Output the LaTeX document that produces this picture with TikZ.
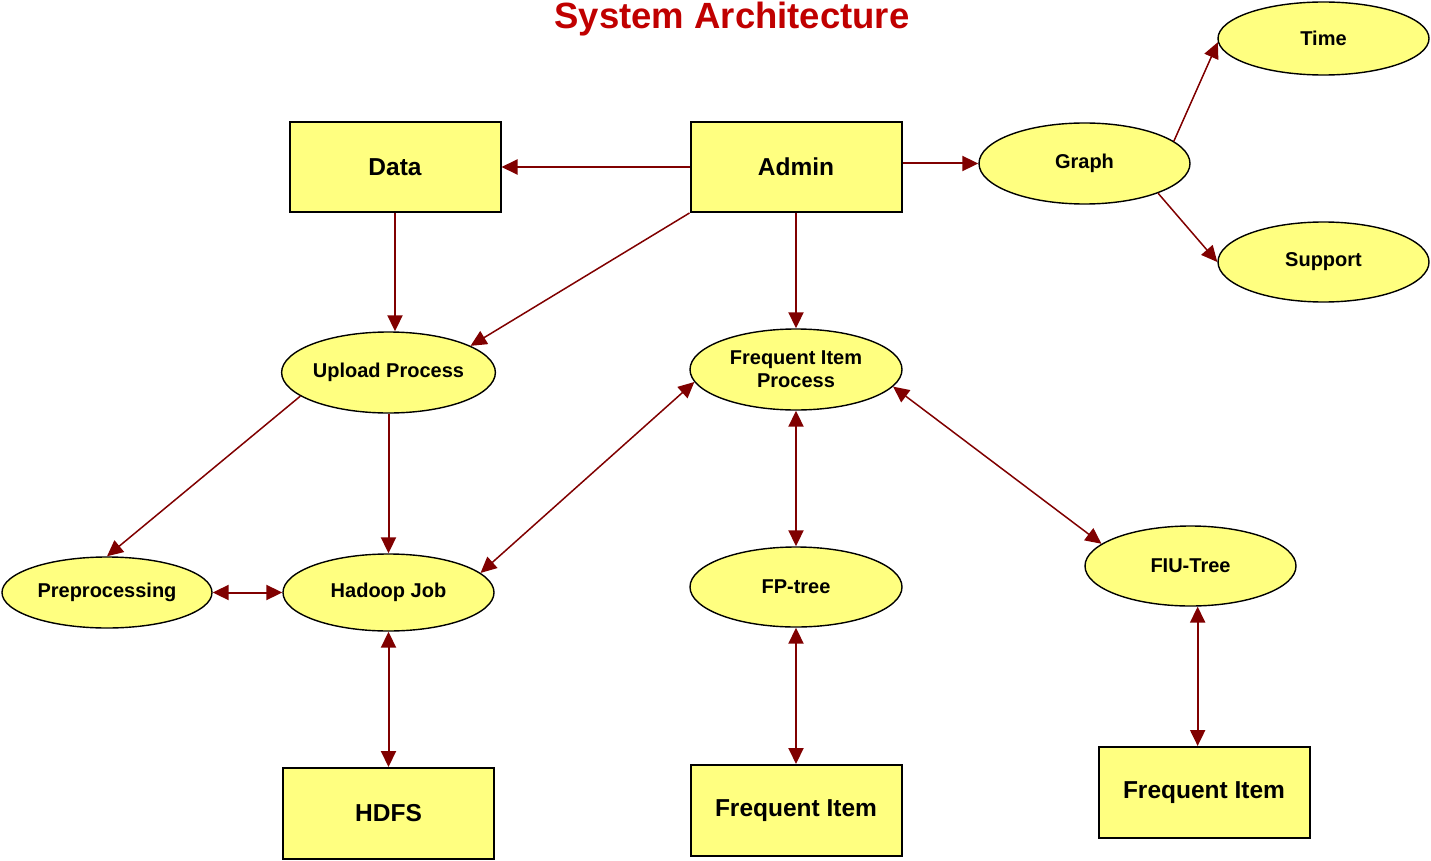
\documentclass[tikz,border=0pt]{standalone}
\usepackage{fontspec}
\setmainfont{Liberation Sans}
\usetikzlibrary{shapes.geometric,arrows.meta}
\definecolor{boxfill}{RGB}{255,255,128}
\definecolor{arrowred}{RGB}{128,0,0}
\definecolor{titlered}{RGB}{192,0,0}
\tikzset{
  rectbox/.style={draw=black,line width=2pt,fill=boxfill,rectangle,inner sep=0pt,
    minimum width=211pt,minimum height=90pt,font=\fontsize{24.5}{27}\selectfont\bfseries},
  ellbox/.style={draw=black,line width=1.4pt,fill=boxfill,ellipse,inner sep=0pt,
    minimum width=211pt,minimum height=80pt,align=center,
    font=\fontsize{20}{24}\selectfont\bfseries},
  arr/.style={draw=arrowred,line width=2pt,-{Triangle[length=16pt,width=15pt]}},
  biarr/.style={draw=arrowred,line width=2pt,{Triangle[length=16pt,width=15pt]}-{Triangle[length=16pt,width=15pt]}},
  thin line/.style={line width=1.5pt},
}
\begin{document}
\begin{tikzpicture}[x=1pt,y=-1pt]
\useasboundingbox (0,0) rectangle (1431,861);
\node[font=\fontsize{36.5}{40}\selectfont\bfseries,text=titlered] (title) at (732,19) {System Architecture};
% rectangles
\node[rectbox] (data) at (395,167) {Data};
\node[rectbox] (admin) at (796,167) {Admin};
\node[rectbox,minimum height=91pt] (hdfs) at (388.5,813.5) {HDFS};
\node[rectbox,minimum height=91pt] (fi1) at (796,810.5) {Frequent Item};
\node[rectbox,minimum height=91pt] (fi2) at (1204,792.5) {Frequent Item};
% ellipses
\node[ellbox,minimum height=81pt] (graph) at (1084.5,163.5) {Graph};
\node[ellbox,minimum height=73pt] (time) at (1323.5,38.5) {Time};
\node[ellbox] (support) at (1323.5,262) {Support};
\node[ellbox,minimum height=81pt] (upload) at (388.5,372.5) {Upload Process};
\node[ellbox,minimum height=81pt,minimum width=212pt] (fip) at (796,369.5) {Frequent Item\\[-1pt]Process};
\node[ellbox,minimum width=210pt,minimum height=71pt] (prep) at (107,592.5) {Preprocessing};
\node[ellbox,minimum height=77pt] (hadoop) at (388.5,592.5) {Hadoop Job};
\node[ellbox,minimum width=212pt] (fptree) at (796,587) {FP-tree};
\node[ellbox] (fiu) at (1190.5,566) {FIU-Tree};
% connectors
\draw[arr] (admin.west) -- (data.east);
\draw[arr] (admin.east |- graph.west) -- (graph.west);
\draw[arr,thin line] (graph.14) -- (time.182);
\draw[arr,thin line] (graph.-22) -- (support.west);
\draw[arr] (data.south) -- (data.south |- upload.north);
\draw[arr,thin line] (admin.south west) -- (upload.18);
\draw[arr] (admin.south) -- (fip.north);
\draw[arr,thin line] (upload.195) -- (prep.north);
\draw[arr] (upload.south) -- (hadoop.north);
\draw[biarr] (prep.east) -- (hadoop.west);
\draw[biarr,thin line] (hadoop.12) -- (fip.187);
\draw[biarr] (fip.south) -- (fptree.north);
\draw[biarr,thin line] (fip.-10) -- (fiu.166);
\draw[biarr] (hadoop.south) -- (hdfs.north);
\draw[biarr] (fptree.south) -- (fi1.north);
\draw[biarr] (fiu.-80) -- (fiu.-80 |- fi2.north);
\end{tikzpicture}
\end{document}
